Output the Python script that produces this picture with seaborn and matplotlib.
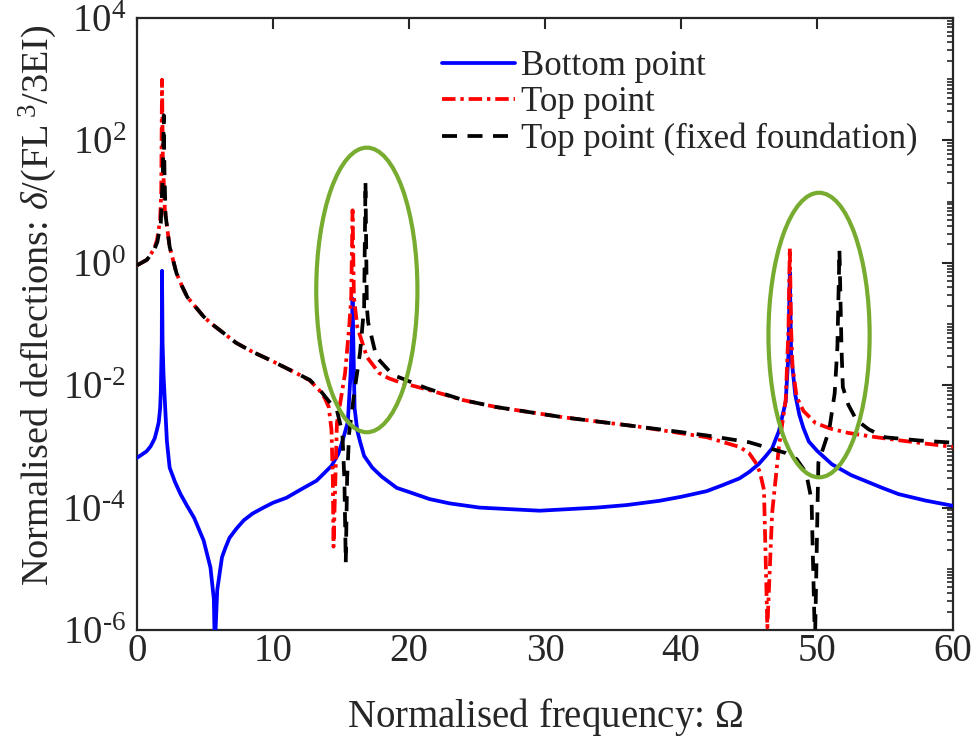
import matplotlib
matplotlib.use("Agg")
import matplotlib.pyplot as plt
import seaborn as sns
from matplotlib.patches import Ellipse
from matplotlib.ticker import LogLocator, FixedLocator, FuncFormatter, NullFormatter
import numpy as np

# =====================================================
# DATA
# =====================================================

bottom_omega = [0.0, 0.7, 1.0, 1.3, 1.45, 1.6, 1.7, 1.75, 1.82, 1.84,
                1.88, 1.95, 2.2, 2.4, 2.8, 3.2, 3.7, 4.2, 4.9, 5.4,
                5.65, 5.72, 5.9, 6.25, 6.5, 6.8, 7.3, 7.85, 8.5, 9.3,
                10.0, 11.0, 12.0, 13.2, 14.3, 14.8, 15.1, 15.5, 15.7, 15.8,
                15.85, 15.9, 16.0, 16.2, 16.4, 16.7, 17.3, 18.0, 19.1, 20.0,
                21.5, 23.0, 25.2, 29.6, 33.8, 36.0, 38.4, 40.0, 41.9, 43.0,
                44.3, 45.0, 45.7, 46.2, 46.7, 47.2, 47.7, 47.9, 48.0, 48.1,
                48.4, 48.7, 49.0, 49.4, 50.0, 51.1, 52.5, 54.8, 56.0, 58.0,
                60.0]
bottom_defl = [6.5e-4, 8.3e-4, 1.0e-3, 1.35e-3, 1.8e-3, 2.5e-3, 4.2e-3, 7.9e-3, 0.05, 0.74,
               0.05, 0.0148, 1.2e-3, 4.5e-4, 2.6e-4, 1.66e-4, 1.05e-4, 6.8e-5, 2.9e-5, 1.05e-5,
               3.2e-6, 5e-7, 4.5e-6, 1.55e-5, 2.2e-5, 3.2e-5, 4.5e-5, 6.2e-5, 8e-5, 1e-4,
               1.2e-4, 1.45e-4, 1.95e-4, 2.75e-4, 4.8e-4, 7.5e-4, 1.2e-3, 2.5e-3, 0.0148, 0.063,
               0.26, 0.063, 4.2e-3, 1.8e-3, 1.2e-3, 7e-4, 4.5e-4, 3.2e-4, 2.1e-4, 1.8e-4,
               1.38e-4, 1.17e-4, 1e-4, 8.9e-5, 1e-4, 1.1e-4, 1.29e-4, 1.5e-4, 1.86e-4, 2.3e-4,
               3.0e-4, 3.8e-4, 5.1e-4, 6.8e-4, 9.3e-4, 1.78e-3, 5.4e-3, 0.0316, 0.7, 0.0316,
               7e-3, 3.3e-3, 2.0e-3, 1.2e-3, 8.5e-4, 5.1e-4, 3.4e-4, 2.1e-4, 1.66e-4, 1.3e-4,
               1.07e-4]

top_omega = [0.0, 0.73, 1.25, 1.47, 1.7, 1.78, 1.84, 1.9, 2.05, 2.4,
             2.9, 3.3, 3.7, 4.9, 5.5, 6.1, 7.3, 8.5, 9.8, 11.7,
             12.7, 13.4, 13.8, 14.1, 14.3, 14.4, 14.45, 14.7, 15.3, 15.6,
             15.75, 15.85, 15.95, 16.2, 16.9, 17.8, 18.5, 19.3, 21.5, 24.0,
             26.4, 31.3, 36.9, 41.9, 44.3, 45.0, 45.5, 45.8, 46.1, 46.35,
             46.7, 47.2, 47.7, 47.9, 48.0, 48.1, 48.2, 48.5, 49.0, 49.9,
             51.0, 52.3, 54.0, 56.0, 60.0]
top_defl = [0.91, 1.12, 1.66, 2.34, 5.0, 13.8, 980, 48, 7.2, 1.82,
            0.68, 0.42, 0.275, 0.132, 0.1, 0.079, 0.049, 0.035, 0.0257, 0.0158,
            0.012, 8.3e-3, 6.2e-3, 4.4e-3, 1.86e-3, 2.8e-4, 2.3e-5, 2.4e-3, 0.0158, 0.089,
            0.275, 7.2, 0.275, 0.089, 0.029, 0.0158, 0.013, 0.0112, 8.3e-3, 5.7e-3,
            4.4e-3, 3.0e-3, 2.1e-3, 1.41e-3, 9.8e-4, 7.8e-4, 5.4e-4, 3.8e-4, 1.95e-4, 1.1e-6,
            8.1e-5, 9.8e-4, 5.8e-3, 0.079, 1.74, 0.079, 0.02, 6.5e-3, 3.8e-3, 2.4e-3,
            1.95e-3, 1.66e-3, 1.45e-3, 1.26e-3, 9.8e-4]

fixed_omega = [0.0, 0.73, 1.25, 1.5, 1.75, 1.9, 1.97, 2.02, 2.1, 2.4,
               2.9, 3.3, 3.7, 4.9, 5.5, 6.1, 7.3, 8.5, 9.8, 11.7,
               12.7, 13.4, 14.1, 14.7, 15.1, 15.25, 15.35, 15.45, 15.6, 16.0,
               16.4, 16.7, 16.8, 16.9, 17.0, 17.6, 18.8, 21.3, 24.0, 26.4,
               31.3, 36.9, 41.9, 45.0, 47.7, 48.5, 49.2, 49.6, 49.85, 50.1,
               50.9, 51.3, 51.5, 51.65, 51.8, 51.9, 52.3, 52.9, 53.8, 55.0,
               57.5, 60.0]
fixed_defl = [0.91, 1.12, 1.6, 2.2, 4.5, 30, 257, 30, 6.0, 1.82,
              0.68, 0.42, 0.275, 0.132, 0.1, 0.079, 0.049, 0.035, 0.0257, 0.0158,
              0.0122, 8.6e-3, 5.5e-3, 3.9e-3, 1.66e-3, 2.8e-4, 1.26e-5, 3e-4, 1.66e-3, 8.3e-3,
              0.034, 0.19, 21, 0.19, 0.105, 0.029, 0.0148, 8.9e-3, 5.7e-3, 4.4e-3,
              3.0e-3, 2.1e-3, 1.51e-3, 1.17e-3, 7.8e-4, 6.2e-4, 3.7e-4, 1.32e-4, 6e-7, 5.4e-4,
              1.86e-3, 7.4e-3, 0.042, 1.62, 0.042, 9.3e-3, 4.8e-3, 2.7e-3, 1.9e-3, 1.41e-3,
              1.25e-3, 1.15e-3]

series_labels = ["Bottom point", "Top point", "Top point (fixed foundation)"]

x_ticks = [0, 10, 20, 30, 40, 50, 60]
y_ticks = [1e-6, 1e-4, 1e-2, 1e0, 1e2, 1e4]

# green rings round the shifted peaks (centre in data units)
ring_omega = [16.9, 50.15]
ring_defl = [0.36, 0.066]

# =====================================================
# STYLE
# =====================================================

sns.set_theme(style="white")
plt.rcParams["font.family"] = ["Liberation Serif", "DejaVu Serif"]
plt.rcParams["mathtext.fontset"] = "custom"
plt.rcParams["mathtext.rm"] = "Liberation Serif"
plt.rcParams["mathtext.it"] = "Liberation Serif:italic"
plt.rcParams["mathtext.bf"] = "Liberation Serif:bold"

axis_col = "#262626"

fig = plt.figure(figsize=(9.72, 7.53), dpi=100)
ax = fig.add_axes([137 / 972, 1 - 630 / 753, 816 / 972, 612 / 753])
ax.set_yscale("log")

# =====================================================
# CURVES
# =====================================================

sns.lineplot(x=bottom_omega, y=bottom_defl, ax=ax, estimator=None, sort=False,
             color="#0000FF", linewidth=2.7, label=series_labels[0], zorder=3)

sns.lineplot(x=top_omega, y=top_defl, ax=ax, estimator=None, sort=False,
             color="#FF0000", linewidth=2.7, linestyle=(0, (3.6, 1.3, 0.9, 1.3)),
             label=series_labels[1], zorder=4)

sns.lineplot(x=fixed_omega, y=fixed_defl, ax=ax, estimator=None, sort=False,
             color="black", linewidth=2.7, linestyle=(0, (4.0, 2.8)),
             label=series_labels[2], zorder=5)

ax.set_xlim(0, 60)
ax.set_ylim(1e-6, 1e4)

# =====================================================
# RINGS
# =====================================================

to_axes = ax.transData + ax.transAxes.inverted()
for om, de in zip(ring_omega, ring_defl):
    cx, cy = to_axes.transform((om, de))
    ax.add_patch(Ellipse((cx, cy), 0.124, 0.465, transform=ax.transAxes,
                         fill=False, edgecolor="#77AC30", linewidth=3.0, zorder=6))

# =====================================================
# AXES
# =====================================================

ax.xaxis.set_major_locator(FixedLocator(x_ticks))
ax.yaxis.set_major_locator(FixedLocator(y_ticks))
ax.yaxis.set_minor_locator(LogLocator(base=10, subs=np.arange(1, 10), numticks=30))
ax.yaxis.set_minor_formatter(NullFormatter())
ax.yaxis.set_major_formatter(
    FuncFormatter(lambda v, p: r"$10^{\text{%d}}$" % round(np.log10(v))))

ax.tick_params(which="both", direction="in", top=True, right=True,
               color=axis_col, labelcolor=axis_col, labelsize=28)
ax.tick_params(which="major", length=8, width=1.5, pad=8)
ax.tick_params(which="minor", length=4, width=1.2)
ax.tick_params(axis="x", which="major", pad=2)
ax.tick_params(axis="x", which="minor", bottom=False, top=False)

for sp in ax.spines.values():
    sp.set_color(axis_col)
    sp.set_linewidth(1.6)

ax.set_xlabel(r"Normalised frequency: $\Omega$", fontsize=28, color=axis_col, labelpad=19)
ax.set_ylabel(r"Normalised deflections: $\delta$/(FL$^{\ 3}$/3EI)", fontsize=27.5, color=axis_col)
ax.yaxis.set_label_coords(-0.096, 0.53)

ax.legend(loc="upper left", bbox_to_anchor=(0.374, 0.948), frameon=False,
          fontsize=25, handlelength=2.1, handletextpad=0.17,
          labelspacing=0.1, borderpad=0, borderaxespad=0)

fig.savefig("out.png", dpi=100)
